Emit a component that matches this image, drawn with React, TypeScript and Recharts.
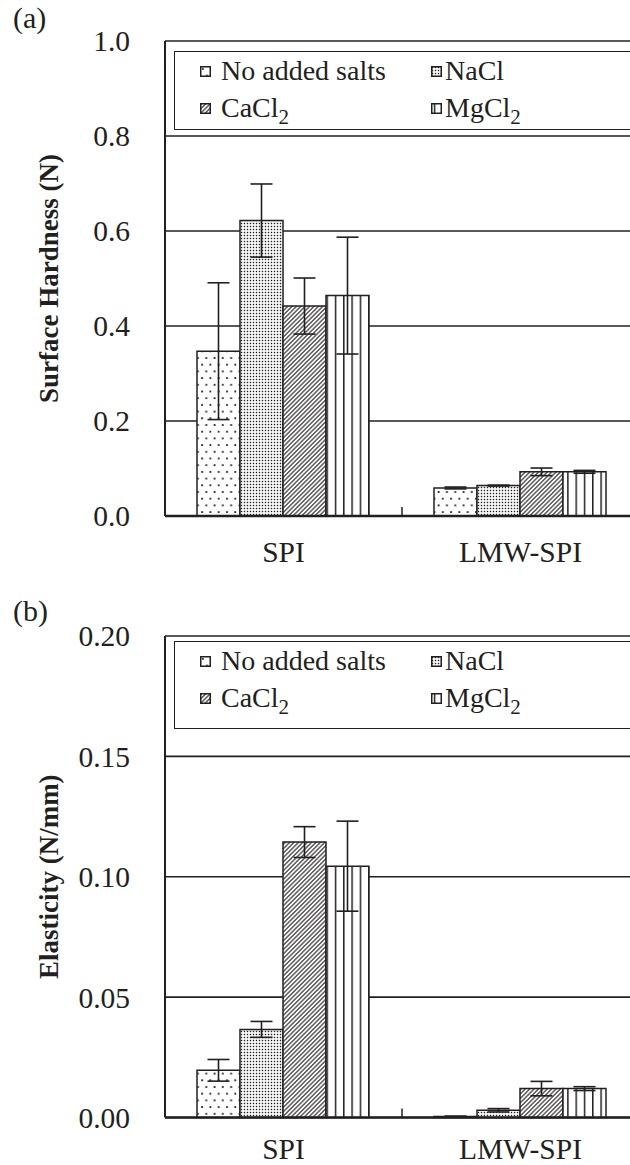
import React from 'react';
import { BarChart, Bar, XAxis, YAxis, CartesianGrid, ErrorBar, Legend } from 'recharts';

const INK = '#231f20';
const FONT = '"Liberation Serif", "Times New Roman", serif';
const TICK_FS = 29.5;

const categories = ['SPI', 'LMW-SPI'];

// (a) surface hardness (N)
const hardNone = [0.347, 0.059];
const hardNoneErr = [0.144, 0.002];
const hardNaCl = [0.622, 0.064];
const hardNaClErr = [0.077, 0.001];
const hardCaCl2 = [0.442, 0.093];
const hardCaCl2Err = [0.059, 0.008];
const hardMgCl2 = [0.464, 0.093];
const hardMgCl2Err = [0.123, 0.003];
const hardTicks = [0, 0.2, 0.4, 0.6, 0.8, 1.0];

// (b) elasticity (N/mm)
const elNone = [0.0196, 0.0004];
const elNoneErr = [0.0045, 0.0002];
const elNaCl = [0.0366, 0.003];
const elNaClErr = [0.0033, 0.0007];
const elCaCl2 = [0.1144, 0.012];
const elCaCl2Err = [0.0064, 0.003];
const elMgCl2 = [0.1044, 0.012];
const elMgCl2Err = [0.0187, 0.0008];
const elTicks = [0, 0.05, 0.1, 0.15, 0.2];

const buildRows = (v: number[][], e: number[][]) =>
  categories.map((cat, i) => ({
    cat,
    none: v[0][i], noneErr: e[0][i],
    nacl: v[1][i], naclErr: e[1][i],
    cacl2: v[2][i], cacl2Err: e[2][i],
    mgcl2: v[3][i], mgcl2Err: e[3][i],
  }));

const hardData = buildRows(
  [hardNone, hardNaCl, hardCaCl2, hardMgCl2],
  [hardNoneErr, hardNaClErr, hardCaCl2Err, hardMgCl2Err]
);
const elData = buildRows(
  [elNone, elNaCl, elCaCl2, elMgCl2],
  [elNoneErr, elNaClErr, elCaCl2Err, elMgCl2Err]
);

const series = [
  { key: 'none', label: 'No added salts', sub: '', fill: 'url(#patNone)' },
  { key: 'nacl', label: 'NaCl', sub: '', fill: 'url(#patNaCl)' },
  { key: 'cacl2', label: 'CaCl', sub: '2', fill: 'url(#patCaCl2)' },
  { key: 'mgcl2', label: 'MgCl', sub: '2', fill: 'url(#patMgCl2)' },
];

const Patterns = () => (
  <svg width={0} height={0} style={{ position: 'absolute' }}>
    <defs>
      <pattern id="patNone" patternUnits="userSpaceOnUse" width={8.3} height={13.4}>
        <rect width={8.3} height={13.4} fill="#fff" />
        <rect x={2} y={2} width={1.8} height={1.8} fill={INK} />
        <rect x={6.15} y={8.7} width={1.8} height={1.8} fill={INK} />
      </pattern>
      <pattern id="patNaCl" patternUnits="userSpaceOnUse" width={3} height={3}>
        <rect width={3} height={3} fill="#fff" />
        <rect x={0.8} y={0.8} width={1.4} height={1.4} fill={INK} />
      </pattern>
      <pattern id="patCaCl2" patternUnits="userSpaceOnUse" width={3.1} height={3.1} patternTransform="rotate(45)">
        <rect width={3.1} height={3.1} fill="#fff" />
        <line x1={1.55} y1={0} x2={1.55} y2={3.1} stroke={INK} strokeWidth={1.1} />
      </pattern>
      <pattern id="patMgCl2" patternUnits="userSpaceOnUse" width={8.3} height={8}>
        <rect width={8.3} height={8} fill="#fff" />
        <line x1={3.5} y1={0} x2={3.5} y2={8} stroke={INK} strokeWidth={1.5} />
      </pattern>
    </defs>
  </svg>
);

// category label plus the small inward tick at the boundary between groups
const CatTick = (props: any) => {
  const { x, y, payload, index, width, visibleTicksCount, gap } = props;
  const band = width / visibleTicksCount;
  const axisY = y - gap;
  const sepX = x - band / 2;
  return (
    <g>
      {index > 0 && (
        <line x1={sepX} x2={sepX} y1={axisY} y2={axisY - 9} stroke={INK} strokeWidth={1.5} />
      )}
      <text x={x} y={y} dy="0.71em" textAnchor="middle" fontFamily={FONT} fontSize={TICK_FS} fill={INK}>
        {payload.value}
      </text>
    </g>
  );
};

const AxisTitle = (props: any) => {
  const { viewBox, text } = props;
  const cx = viewBox.x + 49;
  const cy = viewBox.y + viewBox.height / 2;
  return (
    <text
      x={cx}
      y={cy}
      transform={`rotate(-90 ${cx} ${cy})`}
      textAnchor="middle"
      dominantBaseline="central"
      fontFamily={FONT}
      fontWeight="bold"
      fontSize={27}
      fill={INK}
    >
      {text}
    </text>
  );
};

const LegendBox = ({ height }: { height: number }) => (
  <div
    style={{
      position: 'relative',
      width: 470,
      height,
      border: `1.5px solid ${INK}`,
      boxSizing: 'border-box',
      background: '#fff',
      fontFamily: FONT,
      fontSize: 28,
      color: INK,
    }}
  >
    {series.map((s, i) => {
      const col = i % 2;
      const rowY = i < 2 ? 19 : 56;
      const symLeft = col === 0 ? 25 : 256;
      const textLeft = col === 0 ? 46 : 270;
      return (
        <React.Fragment key={s.key}>
          <svg
            width={11}
            height={11}
            style={{ position: 'absolute', left: symLeft, top: rowY - 5.5 }}
          >
            <rect x={0.75} y={0.75} width={9.5} height={9.5} fill={s.fill} stroke={INK} strokeWidth={1.5} />
          </svg>
          <div
            style={{
              position: 'absolute',
              left: textLeft,
              top: rowY - 16,
              lineHeight: '32px',
              whiteSpace: 'nowrap',
            }}
          >
            {s.label}
            {s.sub && (
              <span style={{ fontSize: '0.75em', position: 'relative', top: '0.32em' }}>{s.sub}</span>
            )}
          </div>
        </React.Fragment>
      );
    })}
  </div>
);

type PanelProps = {
  data: any[];
  ticks: number[];
  digits: number;
  title: string;
  height: number;
  xAxisHeight: number;
  labelGap: number;
  legendTop: number;
  legendHeight: number;
};

const Panel = ({ data, ticks, digits, title, height, xAxisHeight, labelGap, legendTop, legendHeight }: PanelProps) => (
  <BarChart
    width={660}
    height={height}
    data={data}
    margin={{ top: 41, right: 21, bottom: 0, left: 0 }}
    barCategoryGap={32}
    barGap={0}
  >
    <CartesianGrid vertical={false} stroke={INK} strokeWidth={1.6} />
    <XAxis
      dataKey="cat"
      height={xAxisHeight}
      axisLine={{ stroke: INK, strokeWidth: 2.5 }}
      tickLine={false}
      tickSize={0}
      tickMargin={labelGap}
      tick={<CatTick gap={labelGap} />}
    />
    <YAxis
      width={165}
      domain={[ticks[0], ticks[ticks.length - 1]]}
      ticks={ticks}
      tickFormatter={(v: number) => v.toFixed(digits)}
      axisLine={{ stroke: INK, strokeWidth: 2 }}
      tickLine={false}
      tickSize={0}
      tickMargin={35}
      tick={{ fontFamily: FONT, fontSize: TICK_FS, fill: INK }}
      label={<AxisTitle text={title} />}
    />
    <Legend
      layout="horizontal"
      verticalAlign="middle"
      align="center"
      wrapperStyle={{ top: legendTop, left: 174, width: 470 }}
      content={() => <LegendBox height={legendHeight} />}
    />
    {series.map((s) => (
      <Bar
        key={s.key}
        dataKey={s.key}
        name={s.label + s.sub}
        fill={s.fill}
        stroke={INK}
        strokeWidth={1.5}
        isAnimationActive={false}
      >
        <ErrorBar dataKey={s.key + 'Err'} width={11} stroke={INK} strokeWidth={1.6} />
      </Bar>
    ))}
  </BarChart>
);

const panelLabel: React.CSSProperties = {
  position: 'absolute',
  left: 13,
  fontFamily: FONT,
  fontSize: 30,
  lineHeight: 1,
  color: INK,
};

export default function App() {
  return (
    <div
      style={{
        position: 'fixed',
        left: 0,
        top: 0,
        width: 630,
        height: 1165,
        overflow: 'hidden',
        background: '#fff',
      }}
    >
      <Patterns />
      <div style={{ position: 'absolute', left: 0, top: 0 }}>
        <Panel
          data={hardData}
          ticks={hardTicks}
          digits={1}
          title="Surface Hardness (N)"
          height={590}
          xAxisHeight={74}
          labelGap={25}
          legendTop={51}
          legendHeight={79}
        />
      </div>
      <div style={{ position: 'absolute', left: 0, top: 595 }}>
        <Panel
          data={elData}
          ticks={elTicks}
          digits={2}
          title="Elasticity (N/mm)"
          height={570}
          xAxisHeight={47.5}
          labelGap={21}
          legendTop={46}
          legendHeight={88}
        />
      </div>
      <div style={{ ...panelLabel, top: 3 }}>(a)</div>
      <div style={{ ...panelLabel, top: 596 }}>(b)</div>
    </div>
  );
}
